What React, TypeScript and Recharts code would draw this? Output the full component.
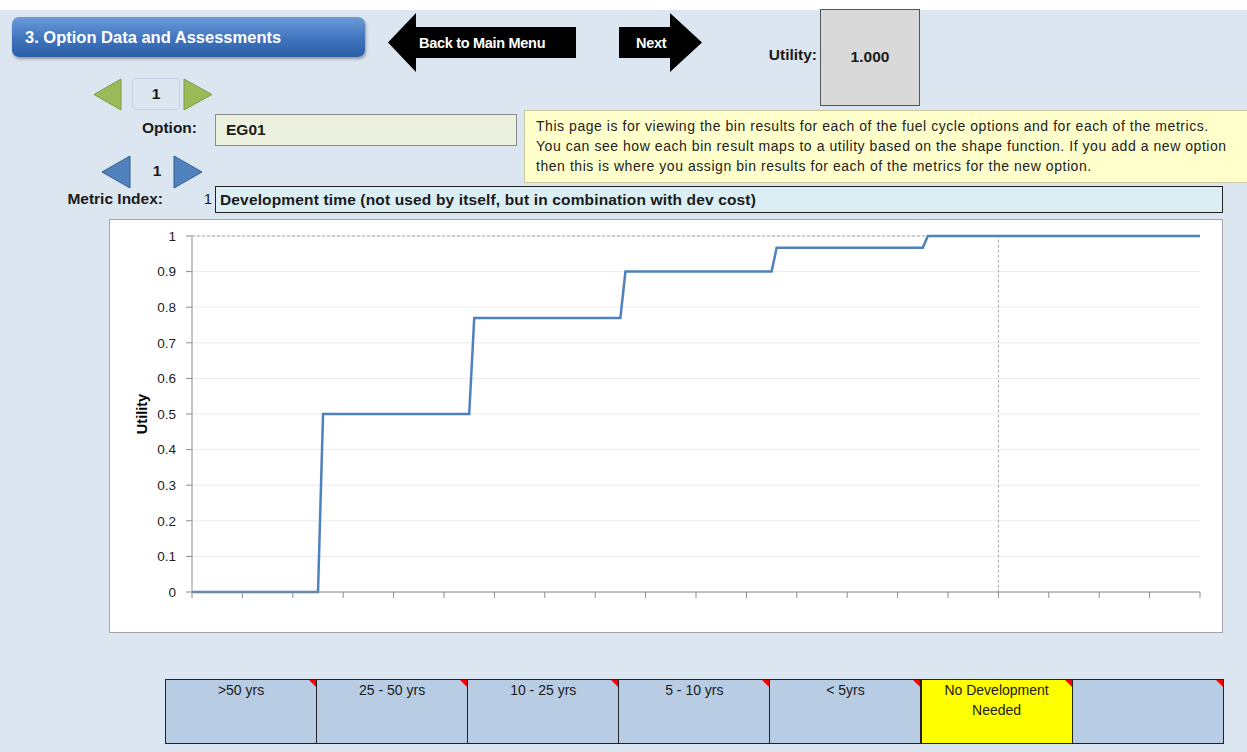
import React from 'react';
import { LineChart, Line, XAxis, YAxis, CartesianGrid, Label } from 'recharts';

// step shape function (bin position -> utility)
const stepX = [0, 2.5, 2.6, 5.5, 5.6, 8.5, 8.6, 11.5, 11.6, 14.5, 14.6, 20];
const stepY = [0, 0, 0.5, 0.5, 0.77, 0.77, 0.9, 0.9, 0.967, 0.967, 1, 1];

// marker for the current option's result
const markerX = [0, 16, 16];
const markerY = [1, 1, 0];

const xTicks = [0, 1, 2, 3, 4, 5, 6, 7, 8, 9, 10, 11, 12, 13, 14, 15, 16, 17, 18, 19, 20];
const yTicks = [0, 0.1, 0.2, 0.3, 0.4, 0.5, 0.6, 0.7, 0.8, 0.9, 1];

const binLabels = ['>50 yrs', '25 - 50 yrs', '10 - 25 yrs', '5 - 10 yrs', '< 5yrs', 'No Development Needed', ''];
const selectedBin = 5;

const noteLines = [
  'This page is for viewing the bin results for each of the fuel cycle options and for each of the metrics.',
  'You can see how each bin result maps to a utility based on the shape function. If you add a new option',
  'then this is where you assign bin results for each of the metrics for the new option.',
];

const stepData = stepX.map((x, i) => ({ x, y: stepY[i] }));
const markerData = markerX.map((x, i) => ({ x, y: markerY[i] }));

const FONT = '"Liberation Sans", Arial, sans-serif';
const BG = '#dce6f1';

const abs = (left: number, top: number, width: number, height: number): React.CSSProperties => ({
  position: 'absolute', left, top, width, height,
});

function Tri({ x, y, w, h, dir, fill, edge }: { x: number; y: number; w: number; h: number; dir: 'l' | 'r'; fill: string; edge: string }) {
  const pts = dir === 'l'
    ? `1,${h / 2} ${w - 1},1 ${w - 1},${h - 1}`
    : `1,1 ${w - 1},${h / 2} 1,${h - 1}`;
  return (
    <svg style={abs(x, y, w, h)} width={w} height={h}>
      <polygon points={pts} fill={fill} stroke={edge} strokeWidth={1} />
    </svg>
  );
}

function Arrow({ x, y, w, h, dir, label, headW, tx }: { x: number; y: number; w: number; h: number; dir: 'l' | 'r'; label: string; headW: number; tx: number }) {
  const bt = 14, bb = 45;
  const pts = dir === 'l'
    ? `0,${h / 2} ${headW},0 ${headW},${bt} ${w},${bt} ${w},${bb} ${headW},${bb} ${headW},${h}`
    : `0,${bt} ${w - headW},${bt} ${w - headW},0 ${w},${h / 2} ${w - headW},${h} ${w - headW},${bb} 0,${bb}`;
  return (
    <svg style={abs(x, y, w, h)} width={w} height={h}>
      <polygon points={pts} fill="#000" />
      <text x={tx} y={h / 2 + 5} fill="#fff" fontSize={14.5} fontWeight="bold" fontFamily={FONT} letterSpacing={-0.3}>{label}</text>
    </svg>
  );
}

export default function App() {
  const cellW = 151.1;
  const bold: React.CSSProperties = { fontWeight: 'bold', fontSize: 15.5 };
  return (
    <div style={{ position: 'absolute', left: 0, top: 0, width: 1247, height: 752, background: BG, fontFamily: FONT, color: '#1a1a1a', overflow: 'hidden' }}>
      <div style={{ ...abs(0, 0, 1247, 10), background: '#fff' }} />

      {/* title button */}
      <div style={{ ...abs(12, 17, 353, 40), borderRadius: 7, background: 'linear-gradient(#6b9bd8, #3f74bd 55%, #2d5ea6)', boxShadow: '1px 2px 3px rgba(0,0,0,0.35)', color: '#fff', fontWeight: 'bold', fontSize: 16.5, lineHeight: '40px', paddingLeft: 13, boxSizing: 'border-box', whiteSpace: 'nowrap' }}>
        3. Option Data and Assessments
      </div>

      <Arrow x={388} y={13} w={188} h={59} dir="l" label="Back to Main Menu" headW={28} tx={31} />
      <Arrow x={619} y={13} w={83} h={59} dir="r" label="Next" headW={32} tx={17} />

      <div style={{ ...abs(730, 46, 87, 22), ...bold, textAlign: 'right' }}>Utility:</div>
      <div style={{ ...abs(820, 9, 100, 97), background: '#d9d9d9', border: '1px solid #555', boxSizing: 'border-box', ...bold, textAlign: 'center', paddingTop: 38 }}>1.000</div>

      {/* option selector */}
      <Tri x={93} y={78} w={29} h={33} dir="l" fill="#9bbb59" edge="#7f9a48" />
      <div style={{ ...abs(132, 78, 48, 32), border: '1px solid #c3d2e6', borderRadius: 4, boxSizing: 'border-box', textAlign: 'center', ...bold, lineHeight: '30px' }}>1</div>
      <Tri x={183} y={78} w={30} h={33} dir="r" fill="#9bbb59" edge="#7f9a48" />

      <div style={{ ...abs(90, 119, 107, 22), ...bold, textAlign: 'right' }}>Option:</div>
      <div style={{ ...abs(215, 114, 302, 32), background: '#ebf1de', border: '1px solid #8c8c8c', boxSizing: 'border-box', ...bold, lineHeight: '30px', paddingLeft: 10 }}>EG01</div>

      <div style={{ ...abs(524, 110, 740, 73), background: '#ffffcc', border: '1px solid #c9c9a0', boxSizing: 'border-box', fontSize: 14, lineHeight: '20px', padding: '5px 0 0 11px', whiteSpace: 'nowrap', letterSpacing: 0.55, color: '#222' }}>
        {noteLines.map((l) => <div key={l}>{l}</div>)}
      </div>

      {/* metric selector */}
      <Tri x={101} y={155} w={30} h={34} dir="l" fill="#4f81bd" edge="#385d8a" />
      <div style={{ ...abs(145, 162, 24, 22), ...bold, textAlign: 'center' }}>1</div>
      <Tri x={173} y={155} w={30} h={34} dir="r" fill="#4f81bd" edge="#385d8a" />

      <div style={{ ...abs(30, 190, 133, 22), ...bold, textAlign: 'right' }}>Metric Index:</div>
      <div style={{ ...abs(190, 190, 22, 22), fontSize: 15, textAlign: 'right' }}>1</div>
      <div style={{ ...abs(215, 186, 1008, 27), background: '#daeef3', border: '1px solid #222', boxSizing: 'border-box', ...bold, lineHeight: '25px', paddingLeft: 4, letterSpacing: 0.15 }}>
        Development time (not used by itself, but in combination with dev cost)
      </div>

      {/* chart */}
      <div style={{ ...abs(109, 219, 1114, 414), background: '#fff', border: '1px solid #a6a6a6', boxSizing: 'border-box' }}>
        <LineChart width={1112} height={412} margin={{ top: 16, right: 22, bottom: 10, left: 20 }}>
          <CartesianGrid vertical={false} stroke="#ececec" />
          <XAxis type="number" dataKey="x" domain={[0, 20]} ticks={xTicks} tickFormatter={() => ''} height={30}
            stroke="#8c8c8c" tickSize={6} allowDuplicatedCategory={false} />
          <YAxis type="number" dataKey="y" domain={[0, 1]} ticks={yTicks} width={62} stroke="#8c8c8c" tickSize={6} tickMargin={10}
            tick={{ fill: '#222', fontSize: 13.5, fontFamily: FONT }}>
            <Label content={({ viewBox }: any) => {
              const cx = viewBox.x + 12;
              const cy = viewBox.y + viewBox.height / 2;
              return (
                <text x={cx} y={cy} transform={`rotate(-90, ${cx}, ${cy})`} textAnchor="middle" dominantBaseline="central"
                  fontSize={14.5} fontWeight="bold" fontFamily={FONT} fill="#000">Utility</text>
              );
            }} />
          </YAxis>
          <Line data={markerData} dataKey="y" type="linear" stroke="#a6a6a6" strokeWidth={1} strokeDasharray="3 2" dot={false} isAnimationActive={false} />
          <Line data={stepData} dataKey="y" type="linear" stroke="#4f81bd" strokeWidth={2.5} dot={false} isAnimationActive={false} />
        </LineChart>
      </div>

      {/* bin cells */}
      {binLabels.map((b, i) => (
        <div key={i} style={{ ...abs(165 + i * cellW, 679, cellW + 1, 65), background: i === selectedBin ? '#ffff00' : '#b8cce4', border: '1px solid #222', boxSizing: 'border-box', fontSize: 14, textAlign: 'center', lineHeight: '20px', padding: '0 12px' }}>
          {b}
          <svg style={{ position: 'absolute', right: 0, top: 0 }} width={7} height={7}>
            <polygon points="0,0 7,0 7,7" fill="#ff0000" />
          </svg>
        </div>
      ))}
    </div>
  );
}
